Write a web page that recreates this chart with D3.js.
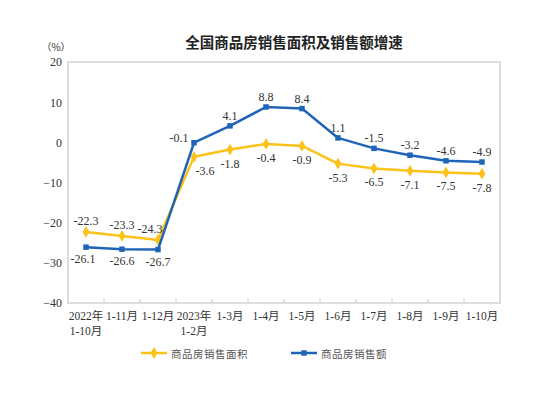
<!DOCTYPE html>
<html>
<head>
<meta charset="utf-8">
<script src="https://cdn.jsdelivr.net/npm/d3@7/dist/d3.min.js"></script>
<style>
  body { margin: 0; background: #fff; }
  svg { display: block; }
</style>
</head>
<body>
<div id="chart"></div>
<script>
// categories (two-line labels split by \n)
const categories = [
  '2022年\n1-10月', '1-11月', '1-12月', '2023年\n1-2月', '1-3月', '1-4月',
  '1-5月', '1-6月', '1-7月', '1-8月', '1-9月', '1-10月',
];

// 商品房销售面积 growth (%)
const areaValues = [-22.3, -23.3, -24.3, -3.6, -1.8, -0.4, -0.9, -5.3, -6.5, -7.1, -7.5, -7.8];

// 商品房销售额 growth (%)
const salesValues = [-26.1, -26.6, -26.7, -0.1, 4.1, 8.8, 8.4, 1.1, -1.5, -3.2, -4.6, -4.9];

const yTicks = [-40, -30, -20, -10, 0, 10, 20];

const seriesNames = ['商品房销售面积', '商品房销售额'];

const W = 549;
const H = 393;
const margin = { top: 62, right: 49, bottom: 90, left: 68 };

const YELLOW = '#FBC21A';
const BLUE = '#1F64B7';
const serif = '"Liberation Serif", "Times New Roman", "Noto Sans CJK SC", serif';
const sans = '"Noto Sans CJK SC", "Noto Sans", sans-serif';

const svg = d3.select('#chart')
  .append('svg')
  .attr('width', W)
  .attr('height', H);

const x = d3.scaleBand()
  .domain(categories)
  .range([margin.left, W - margin.right]);

const y = d3.scaleLinear()
  .domain([-40, 20])
  .range([H - margin.bottom, margin.top]);

const cx = d => x(d) + x.bandwidth() / 2;

// title
svg.append('text')
  .attr('x', 294)
  .attr('y', 41)
  .attr('text-anchor', 'middle')
  .attr('dominant-baseline', 'central')
  .style('font-family', sans)
  .style('font-size', '14.5px')
  .style('font-weight', 'bold')
  .style('fill', '#222')
  .text('全国商品房销售面积及销售额增速');

// unit
svg.append('text')
  .attr('x', 56)
  .attr('y', 46)
  .attr('text-anchor', 'middle')
  .attr('dominant-baseline', 'central')
  .style('font-family', sans)
  .style('font-size', '10px')
  .style('fill', '#333')
  .text('（%）');

// plot frame
svg.append('rect')
  .attr('x', margin.left)
  .attr('y', margin.top)
  .attr('width', W - margin.left - margin.right)
  .attr('height', H - margin.top - margin.bottom)
  .attr('fill', 'none')
  .attr('stroke', '#c8c8c8')
  .attr('stroke-width', 1.2);

// y axis labels
const yAxis = svg.append('g')
  .attr('transform', `translate(${margin.left}, 0)`)
  .call(d3.axisLeft(y).tickValues(yTicks).tickSize(0).tickPadding(6));
yAxis.select('.domain').remove();
yAxis.selectAll('text')
  .style('font-family', serif)
  .style('font-size', '12px')
  .style('fill', '#333');

// x axis labels
const xAxis = svg.append('g')
  .attr('transform', `translate(0, ${H - margin.bottom})`)
  .call(d3.axisBottom(x).tickSize(0).tickFormat(''));
xAxis.select('.domain').remove();
xAxis.selectAll('.tick').each(function (d) {
  const lines = d.split('\n');
  const t = d3.select(this).append('text')
    .attr('text-anchor', 'middle')
    .style('font-family', serif)
    .style('font-size', '11.5px')
    .style('fill', '#333');
  lines.forEach((line, i) => {
    t.append('tspan')
      .attr('x', 0)
      .attr('y', 17 + i * 15)
      .text(line);
  });
});

// tick marks on category boundaries
svg.append('g')
  .selectAll('line')
  .data(categories.slice(1))
  .enter()
  .append('line')
  .attr('x1', d => x(d))
  .attr('x2', d => x(d))
  .attr('y1', H - margin.bottom)
  .attr('y2', H - margin.bottom - 4)
  .attr('stroke', '#c8c8c8')
  .attr('stroke-width', 1);

const line = d3.line()
  .x((d, i) => cx(categories[i]))
  .y(d => y(d));

const diamond = d3.symbol().type(d3.symbolDiamond).size(40);
const square = d3.symbol().type(d3.symbolSquare).size(30);

// area series (yellow)
svg.append('path')
  .datum(areaValues)
  .attr('d', line)
  .attr('fill', 'none')
  .attr('stroke', YELLOW)
  .attr('stroke-width', 2.5)
  .attr('stroke-linejoin', 'round');

svg.append('g')
  .selectAll('path')
  .data(areaValues)
  .enter()
  .append('path')
  .attr('d', diamond)
  .attr('transform', (d, i) => `translate(${cx(categories[i])}, ${y(d)})`)
  .attr('fill', YELLOW);

// sales series (blue)
svg.append('path')
  .datum(salesValues)
  .attr('d', line)
  .attr('fill', 'none')
  .attr('stroke', BLUE)
  .attr('stroke-width', 2.5)
  .attr('stroke-linejoin', 'round');

svg.append('g')
  .selectAll('path')
  .data(salesValues)
  .enter()
  .append('path')
  .attr('d', square)
  .attr('transform', (d, i) => `translate(${cx(categories[i])}, ${y(d)})`)
  .attr('fill', BLUE);

// data labels
const labelStyle = sel => sel
  .attr('text-anchor', 'middle')
  .attr('dominant-baseline', 'central')
  .style('font-family', serif)
  .style('font-size', '12px')
  .style('fill', '#333');

svg.append('g')
  .selectAll('text')
  .data(areaValues)
  .enter()
  .append('text')
  .attr('x', (d, i) => {
    if (i === 2) return cx(categories[i]) - 8;
    if (i === 3) return cx(categories[i]) + 11;
    return cx(categories[i]);
  })
  .attr('y', (d, i) => y(d) + (i < 3 ? -11 : 14))
  .call(labelStyle)
  .text(d => d.toFixed(1));

svg.append('g')
  .selectAll('text')
  .data(salesValues)
  .enter()
  .append('text')
  .attr('x', (d, i) => {
    if (i === 0) return cx(categories[i]) - 3;
    if (i === 3) return cx(categories[i]) - 15;
    return cx(categories[i]);
  })
  .attr('y', (d, i) => {
    if (i < 3) return y(d) + 12;
    if (i === 3) return y(d) - 5;
    return y(d) - 10;
  })
  .call(labelStyle)
  .text(d => d.toFixed(1));

// legend
const legend = svg.append('g').attr('transform', 'translate(0, 353)');
const legendItems = [
  { name: seriesNames[0], color: YELLOW, symbol: diamond, x0: 141 },
  { name: seriesNames[1], color: BLUE, symbol: square, x0: 291 },
];
legendItems.forEach((item) => {
  legend.append('line')
    .attr('x1', item.x0)
    .attr('x2', item.x0 + 26)
    .attr('y1', 0)
    .attr('y2', 0)
    .attr('stroke', item.color)
    .attr('stroke-width', 2.5);
  legend.append('path')
    .attr('d', item.symbol)
    .attr('transform', `translate(${item.x0 + 13}, 0)`)
    .attr('fill', item.color);
  legend.append('text')
    .attr('x', item.x0 + 30)
    .attr('y', 0)
    .attr('dominant-baseline', 'central')
    .style('font-family', sans)
    .style('font-size', '10.5px')
    .style('letter-spacing', '0.5px')
    .style('fill', '#555')
    .text(item.name);
});
</script>
</body>
</html>
